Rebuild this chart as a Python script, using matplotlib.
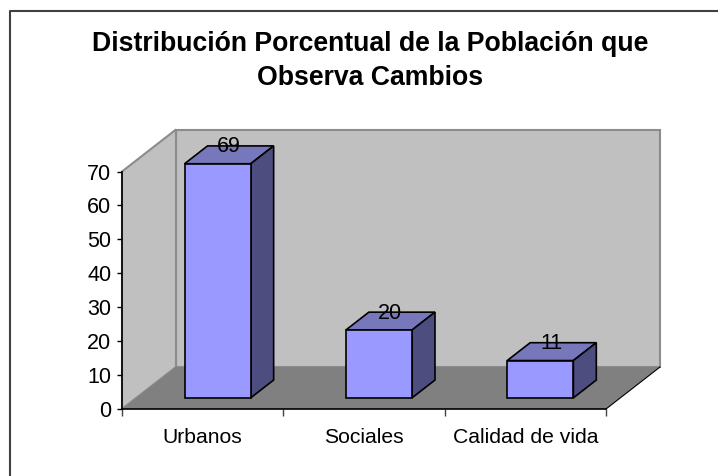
#!/usr/bin/env python3
import matplotlib

matplotlib.use("Agg")
import matplotlib.pyplot as plt
from matplotlib.lines import Line2D
from matplotlib.patches import Polygon

categories = ["Urbanos", "Sociales", "Calidad de vida"]
values = [69, 20, 11]
y_ticks = [0, 10, 20, 30, 40, 50, 60, 70]
title_lines = ["Distribución Porcentual de la Población que", "Observa Cambios"]
title_baselines = [51, 85]

W, H = 718, 476
# pixel box of the front axis plane
AX_LEFT, AX_RIGHT, AX_BOTTOM, AX_TOP = 122, 606, 409, 171.5
# how far the 3d depth shifts things, in data units
DEPTH_X = 54 / ((AX_RIGHT - AX_LEFT) / 3)
DEPTH_Y = 42 / ((AX_BOTTOM - AX_TOP) / 70)
BAR_WIDTH = 0.41
BAR_D0, BAR_D1 = 0.265, 0.69
BAR_NUDGE = 0.004
LABEL_SHIFT = 8 / ((AX_BOTTOM - AX_TOP) / 70)


def proj(x, y, d):
    return (x + d * DEPTH_X, y + d * DEPTH_Y)


plt.rcParams["font.family"] = ["Liberation Sans", "DejaVu Sans"]
fig = plt.figure(figsize=(W / 100, H / 100), dpi=100)
ax = fig.add_axes(
    [AX_LEFT / W, 1 - AX_BOTTOM / H, (AX_RIGHT - AX_LEFT) / W, (AX_BOTTOM - AX_TOP) / H]
)
ax.set_xlim(-0.5, 2.5)
ax.set_ylim(0, 70)
ax.patch.set_visible(False)
for s in ["top", "right"]:
    ax.spines[s].set_visible(False)

x0, x1 = -0.5, 2.5
wall_edge = "#8c8c8c"
# back wall, side wall, floor
ax.add_patch(Polygon([proj(x0, 0, 1), proj(x1, 0, 1), proj(x1, 70, 1), proj(x0, 70, 1)],
                     fc="#c0c0c0", ec=wall_edge, lw=1.5, clip_on=False, zorder=1))
ax.add_patch(Polygon([proj(x0, 0, 0), proj(x0, 0, 1), proj(x0, 70, 1), proj(x0, 70, 0)],
                     fc="#c0c0c0", ec=wall_edge, lw=1.5, clip_on=False, zorder=1))
ax.add_patch(Polygon([proj(x0, 0, 0), proj(x1, 0, 0), proj(x1, 0, 1), proj(x0, 0, 1)],
                     fc="#808080", ec="none", clip_on=False, zorder=2))
ax.plot(*zip(proj(x1, 0, 0), proj(x1, 0, 1)), color="black", lw=0.8, clip_on=False, zorder=2)

for i, v in enumerate(values):
    left, right = i + BAR_NUDGE - BAR_WIDTH / 2, i + BAR_NUDGE + BAR_WIDTH / 2
    # top and side faces
    ax.add_patch(Polygon([proj(left, v, BAR_D0), proj(right, v, BAR_D0),
                          proj(right, v, BAR_D1), proj(left, v, BAR_D1)],
                         fc="#7777bb", ec="black", lw=1.2, clip_on=False, zorder=3))
    ax.add_patch(Polygon([proj(right, 0, BAR_D0), proj(right, 0, BAR_D1),
                          proj(right, v, BAR_D1), proj(right, v, BAR_D0)],
                         fc="#4d4d80", ec="black", lw=1.2, clip_on=False, zorder=3))
    ax.add_patch(Polygon([proj(left, 0, BAR_D0), proj(right, 0, BAR_D0),
                          proj(right, v, BAR_D0), proj(left, v, BAR_D0)],
                         fc="#9999ff", ec="black", lw=1.2, clip_on=False, zorder=3))
    lx, ly = proj(i, v, (BAR_D0 + BAR_D1) / 2)
    ax.text(lx, ly + LABEL_SHIFT, str(v), ha="center", va="center", fontsize=15.5,
            color="black", clip_on=False, zorder=4)

ax.set_yticks(y_ticks)
ax.set_xticks([-0.5, 0.5, 1.5, 2.5])
ax.set_xticklabels([])
ax.set_xticks([0, 1, 2], categories, minor=True)
ax.tick_params(axis="y", labelsize=15.5, length=3.6, width=1, pad=4)
ax.tick_params(axis="x", which="major", length=5, width=1, color="#444444")
ax.tick_params(axis="x", which="minor", length=0, labelsize=15.2, pad=14)
for s in ["left", "bottom"]:
    ax.spines[s].set_linewidth(1.2)
    ax.spines[s].set_zorder(5)

for line, base in zip(title_lines, title_baselines):
    fig.text(370.5 / W, 1 - base / H, line, ha="center", va="baseline", fontsize=19.2,
             fontweight="bold")

# chart frame runs off the right and bottom of the image
frame_x = 9.5 / W
frame_y = 1 - 10.5 / H
fig.add_artist(Line2D([frame_x, frame_x, 1], [0, frame_y, frame_y],
                      transform=fig.transFigure, color="#404040", lw=1.5))
fig.savefig("out.png", dpi=100)
